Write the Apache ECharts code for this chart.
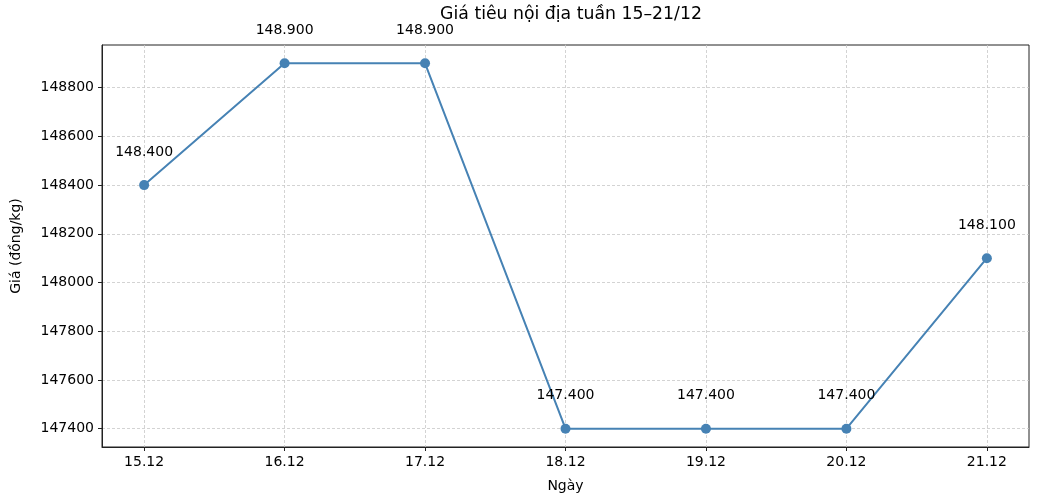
<!DOCTYPE html>
<html>
<head>
<meta charset="utf-8">
<script src="https://cdn.jsdelivr.net/npm/echarts@6/dist/echarts.min.js"></script>
<style>
  html, body { margin: 0; padding: 0; background: #fff; }
  #chart { width: 1046px; height: 504px; }
</style>
</head>
<body>
<div id="chart"></div>
<script>
// data
const days = ['15.12', '16.12', '17.12', '18.12', '19.12', '20.12', '21.12']
const prices = [148400, 148900, 148900, 147400, 147400, 147400, 148100]
const yTicks = [147400, 147600, 147800, 148000, 148200, 148400, 148600, 148800]

const font = 'DejaVu Sans'
const lineColor = '#4682b4'

// vi-VN style thousands separator: 148400 -> 148.400
function fmtPrice(v) {
  return String(v).replace(/\B(?=(\d{3})+(?!\d))/g, '.')
}

const chart = echarts.init(document.getElementById('chart'))
chart.setOption({
  animation: false,
  title: {
    text: 'Giá tiêu nội địa tuần 15–21/12',
    left: 566,
    textAlign: 'center',
    top: 1,
    textStyle: { fontFamily: font, fontSize: 17.3, fontWeight: 'normal', color: '#000' },
  },
  grid: {
    left: 102, right: 17, top: 45, bottom: 57,
    show: true, borderColor: '#222', borderWidth: 1,
  },
  xAxis: {
    type: 'value',
    min: -0.3,
    max: 6.3,
    name: 'Ngày',
    nameLocation: 'middle',
    nameGap: 32,
    nameTextStyle: { fontFamily: font, fontSize: 14, color: '#000' },
    axisLine: { show: true, onZero: false, lineStyle: { color: '#222' } },
    axisTick: { show: true, length: 4, customValues: days.map((d, i) => i), lineStyle: { color: '#222' } },
    axisLabel: {
      customValues: days.map((d, i) => i),
      formatter: v => days[Math.round(v)],
      fontFamily: font, fontSize: 14, color: '#000', margin: 8,
    },
    splitLine: { show: true, lineStyle: { color: '#c8c8c8', type: [3, 2], width: 0.8 } },
  },
  yAxis: {
    type: 'value',
    min: 147325,
    max: 148975,
    name: 'Giá (đồng/kg)',
    nameLocation: 'middle',
    nameGap: 79,
    nameTextStyle: { fontFamily: font, fontSize: 14, color: '#000' },
    axisLine: { show: true, onZero: false, lineStyle: { color: '#222' } },
    axisTick: { show: true, length: 4, customValues: yTicks, lineStyle: { color: '#222' } },
    axisLabel: {
      customValues: yTicks,
      formatter: v => String(v),
      fontFamily: font, fontSize: 14, color: '#000', margin: 8,
    },
    splitLine: { show: true, lineStyle: { color: '#c8c8c8', type: [3, 2], width: 0.8 } },
  },
  series: [
    {
      type: 'line',
      data: prices.map((p, i) => [i, p]),
      symbol: 'circle',
      symbolSize: 10,
      itemStyle: { color: lineColor },
      lineStyle: { color: lineColor, width: 2 },
      label: {
        show: true,
        position: 'top',
        distance: 21,
        formatter: p => fmtPrice(p.value[1]),
        fontFamily: font, fontSize: 14, color: '#000',
      },
    },
  ],
})
</script>
</body>
</html>
